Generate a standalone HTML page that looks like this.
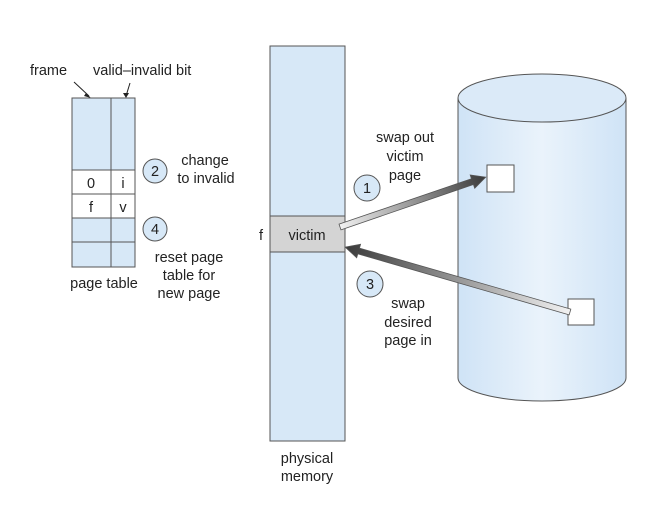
<!DOCTYPE html>
<html><head><style>body{margin:0;background:#fff}</style></head><body>
<svg width="656" height="507" xmlns="http://www.w3.org/2000/svg" font-family="Liberation Sans, sans-serif" font-size="14.5" fill="#222">
<defs>
<linearGradient id="cyl" x1="0" x2="1" y1="0" y2="0">
<stop offset="0" stop-color="#cfe3f6"/><stop offset="0.5" stop-color="#eaf3fb"/><stop offset="1" stop-color="#cfe3f6"/></linearGradient>
<linearGradient id="ag" x1="0" x2="1"><stop offset="0" stop-color="#f2f2f2"/><stop offset="1" stop-color="#3a3a3a"/></linearGradient>
</defs>
<!-- page table -->
<text x="30" y="75">frame</text><text x="93" y="75">valid–invalid bit</text>
<path d="M74 82 L89 96" stroke="#222"/><path d="M86 93 L91 98 L84 96Z" fill="#222"/>
<path d="M130 83 L126 96" stroke="#222"/><path d="M123 93 L126 98 L129 93Z" fill="#222"/>
<rect x="72" y="98" width="63" height="169" fill="#d7e8f7" stroke="#555"/>
<rect x="72" y="170" width="63" height="48" fill="#fff" stroke="#555"/>
<line x1="72" y1="194" x2="135" y2="194" stroke="#555"/>
<line x1="72" y1="242" x2="135" y2="242" stroke="#555"/>
<line x1="111" y1="98" x2="111" y2="267" stroke="#555"/>
<text x="91" y="188" text-anchor="middle">0</text><text x="123" y="188" text-anchor="middle">i</text>
<text x="91" y="212" text-anchor="middle">f</text><text x="123" y="212" text-anchor="middle">v</text>
<text x="104" y="288" text-anchor="middle">page table</text>
<circle cx="155" cy="171" r="12" fill="#d7e8f7" stroke="#555"/><text x="155" y="176" text-anchor="middle">2</text>
<text x="205" y="165" text-anchor="middle">change</text><text x="206" y="183" text-anchor="middle">to invalid</text>
<circle cx="155" cy="229" r="12" fill="#d7e8f7" stroke="#555"/><text x="155" y="234" text-anchor="middle">4</text>
<text x="189" y="262" text-anchor="middle">reset page</text><text x="189" y="280" text-anchor="middle">table for</text><text x="189" y="298" text-anchor="middle">new page</text>
<!-- memory -->
<rect x="270" y="46" width="75" height="395" fill="#d7e8f7" stroke="#555"/>
<rect x="270" y="216" width="75" height="36" fill="#d4d4d4" stroke="#555"/>
<text x="307" y="240" text-anchor="middle">victim</text>
<text x="259" y="240">f</text>
<text x="307" y="463" text-anchor="middle">physical</text><text x="307" y="481" text-anchor="middle">memory</text>
<!-- cylinder -->
<path d="M458 98 L458 378 A84 23 0 0 0 626 378 L626 98" fill="url(#cyl)" stroke="#555"/>
<ellipse cx="542" cy="98" rx="84" ry="24" fill="#dbeaf8" stroke="#555"/>
<rect x="487" y="165" width="27" height="27" fill="#fff" stroke="#555"/>
<rect x="568" y="299" width="26" height="26" fill="#fff" stroke="#555"/>
<!-- arrows -->
<g transform="translate(340,227) rotate(-18.9)">
<polygon points="0,-3 140,-3 140,-7 154,0 140,7 140,3 0,3" fill="url(#ag)" stroke="#555" stroke-width="0.8"/>
</g>
<g transform="translate(570,312) rotate(196.1)">
<polygon points="0,-3 220,-3 220,-7 234,0 220,7 220,3 0,3" fill="url(#ag)" stroke="#555" stroke-width="0.8"/>
</g>
<circle cx="367" cy="188" r="13" fill="#d7e8f7" stroke="#555"/><text x="367" y="193" text-anchor="middle">1</text>
<circle cx="370" cy="284" r="13" fill="#d7e8f7" stroke="#555"/><text x="370" y="289" text-anchor="middle">3</text>
<text x="405" y="142" text-anchor="middle">swap out</text><text x="405" y="161" text-anchor="middle">victim</text><text x="405" y="180" text-anchor="middle">page</text>
<text x="408" y="308" text-anchor="middle">swap</text><text x="408" y="327" text-anchor="middle">desired</text><text x="408" y="345" text-anchor="middle">page in</text>
</svg>
</body></html>
